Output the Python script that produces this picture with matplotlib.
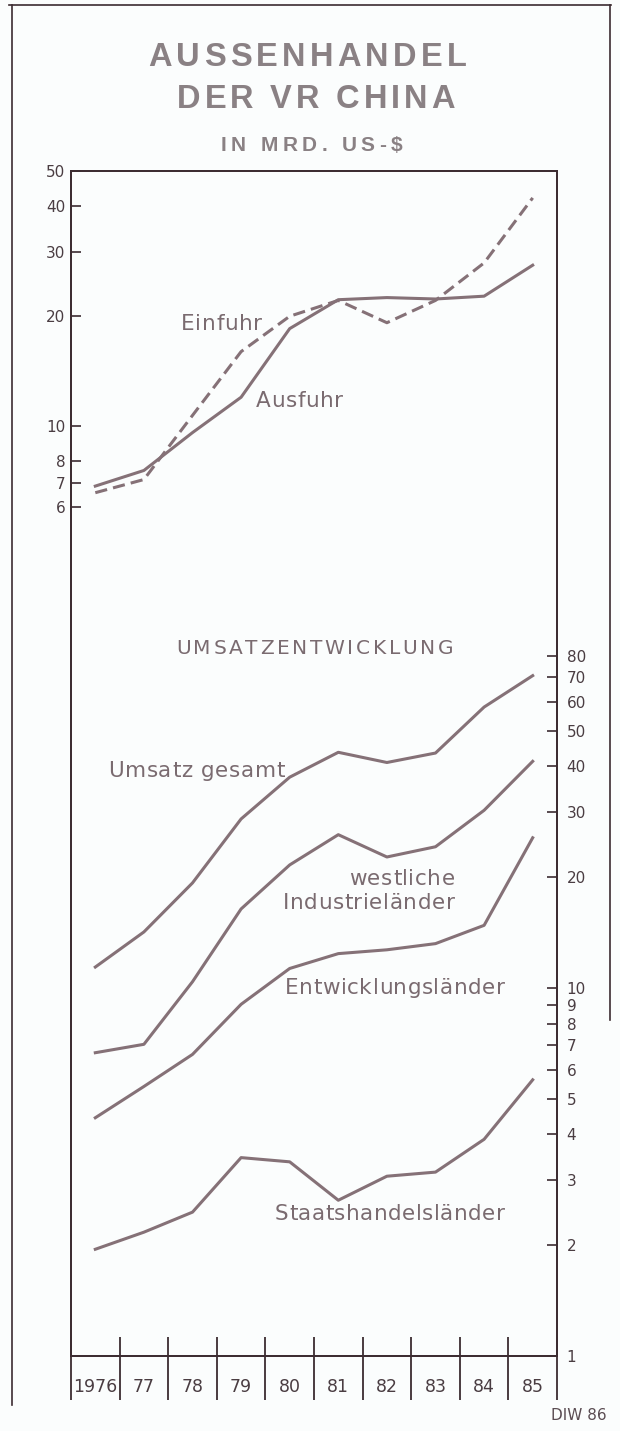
import matplotlib
matplotlib.use("Agg")
import matplotlib.pyplot as plt
from matplotlib import font_manager
from matplotlib.ft2font import FT2Font
from matplotlib.lines import Line2D

# Data (Mrd. US-$), 1976-1985
years = ["1976", "77", "78", "79", "80", "81", "82", "83", "84", "85"]
ausfuhr = [6.85, 7.56, 9.6, 12.0, 18.5, 22.2, 22.5, 22.3, 22.7, 27.6]
einfuhr = [6.57, 7.14, 10.7, 16.0, 20.0, 22.1, 19.2, 22.1, 28.0, 42.2]

umsatz_gesamt = [11.4, 14.2, 19.3, 28.8, 37.4, 43.7, 41.0, 43.5, 58.0, 70.6]
westl_industrie = [6.67, 7.03, 10.4, 16.4, 21.6, 26.1, 22.7, 24.2, 30.4, 41.3]
entwicklung = [4.44, 5.4, 6.6, 9.03, 11.3, 12.4, 12.7, 13.2, 14.8, 25.6]
staatshandel = [1.95, 2.17, 2.46, 3.46, 3.37, 2.65, 3.08, 3.16, 3.88, 5.63]

left_ticks = [6, 7, 8, 10, 20, 30, 40, 50]
right_ticks = [1, 2, 3, 4, 5, 6, 7, 8, 9, 10, 20, 30, 40, 50, 60, 70, 80]

LINE = "#857177"
TEXT = "#7a6b70"
TITLE = "#8a8184"
AXC = "#3c2c31"
TICKC = "#4a3d42"
FONT = "DejaVu Sans"

W, H = 620, 1431
fig = plt.figure(figsize=(W / 100, H / 100), dpi=100)
fig.patch.set_facecolor("#fbfdfd")

def fx(px):
    return px / W

def fy(py):
    return 1 - py / H

# letter-spaced text: spread string between pixel x0 and x1 on baseline
def tracked(x0, x1, base, s, size, family=FONT, weight="normal", color=TEXT):
    path = font_manager.findfont(font_manager.FontProperties(family=family, weight=weight))
    f = FT2Font(path, hinting_factor=1)
    f.set_size(size, 100)
    adv = [f.load_char(ord(c)).linearHoriAdvance / 65536 for c in s]
    track = ((x1 - x0) - sum(adv)) / (len(s) - 1)
    x = x0
    for c, a in zip(s, adv):
        if c != " ":
            fig.text(fx(x), fy(base), c, ha="left", va="baseline", fontsize=size,
                     family=family, fontweight=weight, color=color)
        x += a + track

ax_l, ax_r, ax_t, ax_b = 71, 557, 171, 1356
ax = fig.add_axes([fx(ax_l), fy(ax_b), fx(ax_r - ax_l), (ax_b - ax_t) / H])
ax.set_facecolor("none")
ax2 = ax.twinx()

x = list(range(len(years)))

# top chart (left scale)
ax.plot(x, ausfuhr, color=LINE, lw=2.2)
ax.plot(x, einfuhr, color=LINE, lw=2.2, dashes=(4, 2))
ax.set_yscale("log")
decades = (ax_b - ax_t) / 365
ax.set_ylim(50 / 10 ** decades, 50)
ax.set_xlim(-0.5, 9.5)

# bottom chart (right scale)
for s in [umsatz_gesamt, westl_industrie, entwicklung, staatshandel]:
    ax2.plot(x, s, color=LINE, lw=2.2)
ax2.set_yscale("log")
ax2.set_ylim(1, 10 ** ((ax_b - ax_t) / 368))

ax.set_yticks(left_ticks)
ax.set_yticklabels([str(t) for t in left_ticks])
ax.yaxis.set_minor_locator(matplotlib.ticker.NullLocator())
ax.tick_params(axis="y", direction="in", length=7.5, width=1.2, color=AXC,
               labelsize=11, labelcolor=TICKC, pad=4)
ax2.set_yticks(right_ticks)
ax2.set_yticklabels([str(t) for t in right_ticks])
ax2.yaxis.set_minor_locator(matplotlib.ticker.NullLocator())
ax2.tick_params(axis="y", direction="in", length=7, width=1.2, color=AXC,
                labelsize=11, labelcolor=TICKC, pad=7)
for lab in ax.get_yticklabels() + ax2.get_yticklabels():
    lab.set_family(FONT)

ax.set_xticks([])
for a in (ax, ax2):
    for sp in a.spines.values():
        sp.set_color(AXC)
        sp.set_linewidth(1.3)

# year separators and labels
ax.vlines([i - 0.5 for i in range(len(years) + 1)], -0.037, 0.016,
          transform=ax.get_xaxis_transform(), color=AXC, lw=1.3, clip_on=False)
for i, y in enumerate(years):
    ax.text(i, -0.026, y, transform=ax.get_xaxis_transform(), ha="center",
            va="center", fontsize=12.5, color=TICKC, family=FONT)

# series labels
tracked(181, 262, 330, "Einfuhr", 15.5)
tracked(256, 343, 407, "Ausfuhr", 15.5)
tracked(108, 285, 777, "Umsatz gesamt", 15.5)
tracked(349, 455, 885, "westliche", 15.5)
tracked(283, 455, 909, "Industrieländer", 15.5)
tracked(285, 505, 994, "Entwicklungsländer", 15.5)
tracked(275, 505, 1220, "Staatshandelsländer", 15.5)
tracked(176, 453, 654, "UMSATZENTWICKLUNG", 14.5)

# titles
tracked(148, 467, 66, "AUSSENHANDEL", 23.5, "Liberation Sans", "bold", TITLE)
tracked(177, 455, 108, "DER VR CHINA", 23.5, "Liberation Sans", "bold", TITLE)
tracked(221, 402, 151, "IN MRD. US-$", 15, "Liberation Sans", "bold", TITLE)
fig.text(fx(607), fy(1416), "DIW 86", ha="right", va="center",
         fontsize=11, color="#5a4c52", family=FONT)

# page frame
fig.add_artist(Line2D([fx(12), fx(12)], [fy(5), fy(1405)], color=AXC, lw=1.2))
fig.add_artist(Line2D([fx(9), fx(611)], [fy(5), fy(5)], color=AXC, lw=1.2))
fig.add_artist(Line2D([fx(610), fx(610)], [fy(5), fy(1020)], color=AXC, lw=1.2))

fig.savefig("out.png", dpi=100, facecolor=fig.get_facecolor())
